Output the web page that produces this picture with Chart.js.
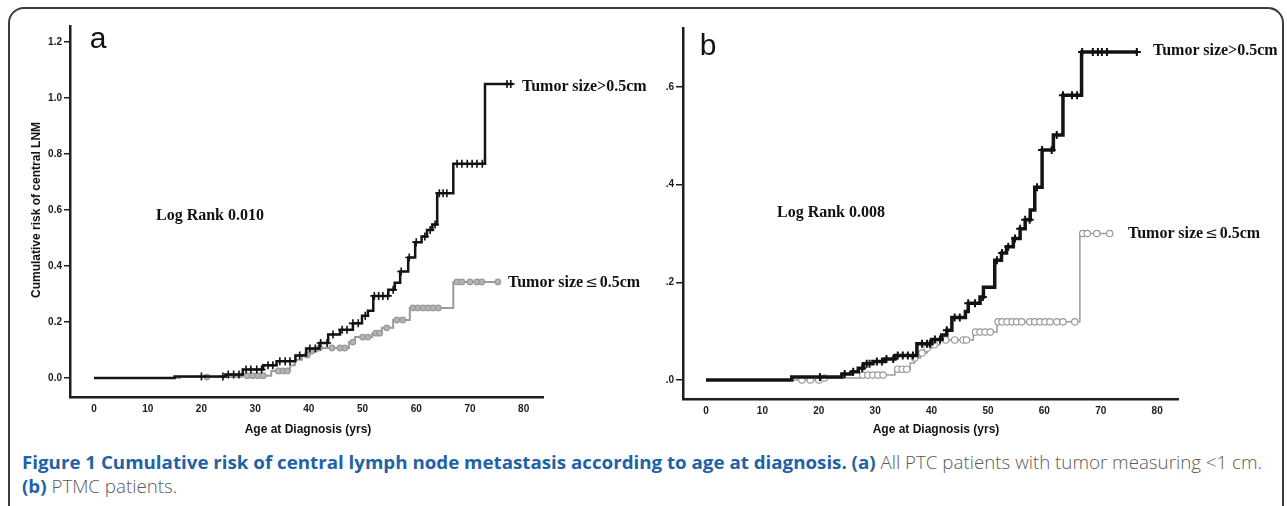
<!DOCTYPE html>
<html><head><meta charset="utf-8">
<script src="https://cdn.jsdelivr.net/npm/chart.js@4/dist/chart.umd.min.js"></script>
<style>
html,body{margin:0;padding:0;background:#fff;}
body{width:1287px;height:506px;overflow:hidden;position:relative;font-family:"Liberation Sans",Arial,sans-serif;}
.frame{position:absolute;left:8px;top:7px;width:1276px;height:540px;border:2px solid #3c3c3c;border-radius:16px;box-sizing:border-box;}
canvas{position:absolute;}
.t{position:absolute;white-space:nowrap;line-height:1;}
.lab{font-family:"Liberation Serif","Times New Roman",serif;font-weight:bold;font-size:16px;color:#111;}
.le{font-family:"DejaVu Serif",serif;font-weight:normal;font-size:15px;padding:0 2px;}
.axt{font-family:"Liberation Sans",Arial,sans-serif;font-weight:bold;font-size:12px;color:#111;}
.panel{font-family:"Liberation Sans",Arial,sans-serif;font-size:30px;color:#111;}
#cap{position:absolute;left:22px;top:450px;font-family:"Open Sans","Noto Sans",sans-serif;font-size:18px;line-height:24px;white-space:nowrap;transform-origin:0 0;}
#cap .b{color:#1f62a6;font-weight:700;}
#cap .n{color:#5a5a5a;font-weight:300;}
</style></head><body>
<div class="frame"></div>
<canvas id="ca" width="650" height="440" style="left:0;top:0"></canvas>
<canvas id="cb" width="637" height="440" style="left:650px;top:0"></canvas>

<div class="t panel" style="left:98px;top:37.6px;transform:translate(-50%,-50%)">a</div>
<div class="t panel" style="left:708px;top:44.6px;transform:translate(-50%,-50%)">b</div>
<div class="t lab" style="left:210px;top:215px;transform:translate(-50%,-50%)">Log Rank 0.010</div>
<div class="t lab" style="left:831px;top:212px;transform:translate(-50%,-50%)">Log Rank 0.008</div>
<div class="t lab" style="left:522px;top:86px;transform:translate(0,-50%)">Tumor size&gt;0.5cm</div>
<div class="t lab" style="left:508px;top:282px;transform:translate(0,-50%)">Tumor size<span class="le">≤</span>0.5cm</div>
<div class="t lab" style="left:1153px;top:50px;transform:translate(0,-50%)">Tumor size&gt;0.5cm</div>
<div class="t lab" style="left:1128px;top:233px;transform:translate(0,-50%)">Tumor size<span class="le">≤</span>0.5cm</div>
<div class="t axt" style="left:308px;top:429px;transform:translate(-50%,-50%)">Age at Diagnosis (yrs)</div>
<div class="t axt" style="left:936px;top:429px;transform:translate(-50%,-50%)">Age at Diagnosis (yrs)</div>
<div class="t axt" style="left:36px;top:210px;transform:translate(-50%,-50%) rotate(-90deg)">Cumulative risk of central LNM</div>

<div id="cap"><div id="l1"><span class="b">Figure 1 Cumulative risk of central lymph node metastasis according to age at diagnosis. (a)</span><span class="n"> All PTC patients with tumor measuring &lt;1 cm.</span></div><div id="l2"><span class="b">(b)</span><span class="n"> PTMC patients.</span></div></div>

<script>
// ---------- Panel (a): all PTC < 1 cm ----------
const ageA_big  = [0,15,24.5,27.7,31.5,34,37.5,39.5,42,43.6,45.8,48.2,49.9,51,52,54.8,56,57,58.5,59.8,61,62,63,63.9,66.9,72.8,78];
const riskA_big = [0,0.005,0.012,0.03,0.045,0.06,0.08,0.105,0.125,0.155,0.172,0.195,0.222,0.24,0.293,0.315,0.34,0.38,0.43,0.485,0.505,0.528,0.548,0.66,0.765,1.05,1.05];
const censA_big = [20,24,25,26,27,28.3,29.2,30.3,31.2,32.4,33.3,34.6,35.6,36.5,38.3,40.2,41.2,42.2,43.4,44.5,46.2,47.1,48.2,49.2,50.5,52.2,53,53.8,54.7,55.7,57.2,58.7,60,61.6,62.6,63.5,64.3,65,65.7,67.6,68.5,69.5,70.4,71.3,72.3,76.9,77.6];

const ageA_small  = [0,16,27.5,33,36.5,37.4,38.7,39.9,41.5,47.5,48.6,51.8,53.6,55.7,58.8,66.9,75.2];
const riskA_small = [0,0.003,0.008,0.025,0.045,0.065,0.082,0.095,0.107,0.128,0.146,0.16,0.179,0.207,0.25,0.343,0.343];
const censA_small = [21,28.5,29.5,30.5,31.5,34.3,35.2,36,39.7,40.5,42,44.3,45.8,46.7,48.2,50,51,52.5,53.2,54.5,56.4,57.5,59.4,60.3,61.3,62.2,63.1,64.1,67.6,68.5,70,71.3,72.2,75.2];

const xTicksA = [0,10,20,30,40,50,60,70,80];
const xLabelsA = ['0','10','20','30','40','50','60','70','80'];
const yTicksA = [0,0.2,0.4,0.6,0.8,1.0,1.2];
const yLabelsA = ['0.0','0.2','0.4','0.6','0.8','1.0','1.2'];

// ---------- Panel (b): PTMC ----------
const ageB_big  = [0,15.2,24.1,25.9,27,27.9,29.6,31.7,33.5,37.4,40,41.8,42.7,43.6,46,46.5,48.6,49.2,51.2,52.4,53.3,54.5,55.7,56.6,57.5,58.3,59.6,61.6,63.3,66.6,76.6];
const riskB_big = [0,0.006,0.012,0.017,0.024,0.033,0.038,0.043,0.05,0.074,0.083,0.092,0.102,0.128,0.14,0.157,0.17,0.19,0.245,0.26,0.273,0.29,0.31,0.328,0.348,0.395,0.471,0.502,0.583,0.672,0.672];
const censB_big = [20.2,24.6,26.1,27.7,28.5,29,30.3,31.2,32,33.2,34,34.9,35.8,36.7,38.3,39.2,39.7,40.6,41.5,42.7,44.1,45,46.5,47.7,49.1,51.6,52.5,53.6,54.8,55.7,56.6,57.4,58.7,59.6,61.3,62.2,63.3,64.9,65.8,66.7,68.6,69.5,70.2,71.1,76.4];

const ageB_small  = [0,20.5,27.5,33.5,36.2,37,38,39.2,40,41.5,47.4,51.6,66.3,72];
const riskB_small = [0,0.004,0.01,0.022,0.035,0.045,0.055,0.065,0.072,0.082,0.098,0.119,0.3,0.3];
const censB_small = [17,18.5,20,21,27.8,28.7,29.6,30.5,31.4,34,34.8,35.6,37,38.3,39.2,40.5,42.5,44.1,45.6,46.2,47.8,48.6,49.5,50.4,51.8,52.5,53.4,54.3,55.1,56,57.4,58.3,59.2,60.1,61,62.2,63.3,65.4,66.8,67.6,69.3,71.6];

const xTicksB = [0,10,20,30,40,50,60,70,80];
const xLabelsB = ['0','10','20','30','40','50','60','70','80'];
const yTicksB = [0,0.2,0.4,0.6];
const yLabelsB = ['.0','.2','.4','.6'];

// ---------- helpers ----------
function pts(ages, risks){ return ages.map((a,i)=>({x:a, y:risks[i]})); }
function stepAt(ages, risks, t){ let v = risks[0]; for(let i=0;i<ages.length;i++){ if(ages[i] <= t) v = risks[i]; } return v; }
function cens(times, ages, risks){ return times.map(t=>({x:t, y:stepAt(ages, risks, t)})); }

const tickFont = {family:'"Liberation Sans", Arial, sans-serif', size:10, weight:'bold'};

function build(id, o){
  return new Chart(document.getElementById(id), {
    type:'line',
    data:{datasets:[
      {data:cens(o.cBig,o.aBig,o.rBig), showLine:false, pointStyle:'cross', pointRadius:4, pointBorderWidth:o.crossW, pointBorderColor:'#111', pointBackgroundColor:'#111'},
      {data:pts(o.aBig,o.rBig), stepped:true, borderColor:'#141414', borderWidth:o.bigW, pointRadius:0, fill:false},
      {data:cens(o.cSmall,o.aSmall,o.rSmall), showLine:false, pointStyle:'circle', pointRadius:o.circR, pointBorderWidth:1.2, pointBorderColor:'#9a9a9a', pointBackgroundColor:o.circFill},
      {data:pts(o.aSmall,o.rSmall), stepped:true, borderColor:'#9c9c9c', borderWidth:o.smallW, pointRadius:0, fill:false}
    ]},
    options:{
      responsive:false, animation:false, events:[],
      layout:{padding:{left:0,right:o.padR,top:o.padT,bottom:0}},
      plugins:{legend:{display:false},tooltip:{enabled:false},title:{display:false}},
      scales:{
        x:{type:'linear', min:o.xMin, max:o.xMax,
           afterFit:s=>{s.height=o.xH;},
           afterBuildTicks:s=>{s.ticks=o.xT.map(v=>({value:v}));},
           ticks:{callback:(v,i)=>o.xL[i], font:tickFont, color:'#1a1a1a', padding:6, autoSkip:false, maxRotation:0},
           grid:{display:false, drawTicks:false},
           border:{display:true, color:'#1e1e1e', width:2.5}},
        y:{type:'linear', min:o.yMin, max:o.yMax,
           afterFit:s=>{s.width=o.yW;},
           afterBuildTicks:s=>{s.ticks=o.yT.map(v=>({value:v}));},
           ticks:{callback:(v,i)=>o.yL[i], font:tickFont, color:'#1a1a1a', padding:2, autoSkip:false},
           grid:{display:true, drawOnChartArea:false, drawTicks:true, tickLength:o.tickLen, color:'#1e1e1e', lineWidth:1.5},
           border:{display:true, color:'#1e1e1e', width:2.5}}
      }
    }
  });
}

build('ca', {aBig:ageA_big,rBig:riskA_big,cBig:censA_big,aSmall:ageA_small,rSmall:riskA_small,cSmall:censA_small,
  xT:xTicksA,xL:xLabelsA,yT:yTicksA,yL:yLabelsA,
  xMin:-4.47,xMax:83.6,yMin:-0.068,yMax:1.257,padR:107,padT:26,xH:43,yW:70,tickLen:6,
  bigW:2.5,smallW:2,crossW:1.6,circR:2.8,circFill:'#b4b4b4'});

build('cb', {aBig:ageB_big,rBig:riskB_big,cBig:censB_big,aSmall:ageB_small,rSmall:riskB_small,cSmall:censB_small,
  xT:xTicksB,xL:xLabelsB,yT:yTicksB,yL:yLabelsB,
  xMin:-4.08,xMax:83.7,yMin:-0.039,yMax:0.721,padR:109,padT:28,xH:41,yW:33,tickLen:7,
  bigW:3.5,smallW:1.5,crossW:2,circR:3.2,circFill:'#ffffff'});

// caption: fit first line to the reference width
(function(){
  const cap=document.getElementById('cap');
  const l1=document.getElementById('l1');
  l1.style.display='inline-block';
  const w=l1.getBoundingClientRect().width;
  l1.style.display='block';
  const target=1240;
  cap.style.transform='scaleX('+(target/w)+')';
})();
</script>
</body></html>
